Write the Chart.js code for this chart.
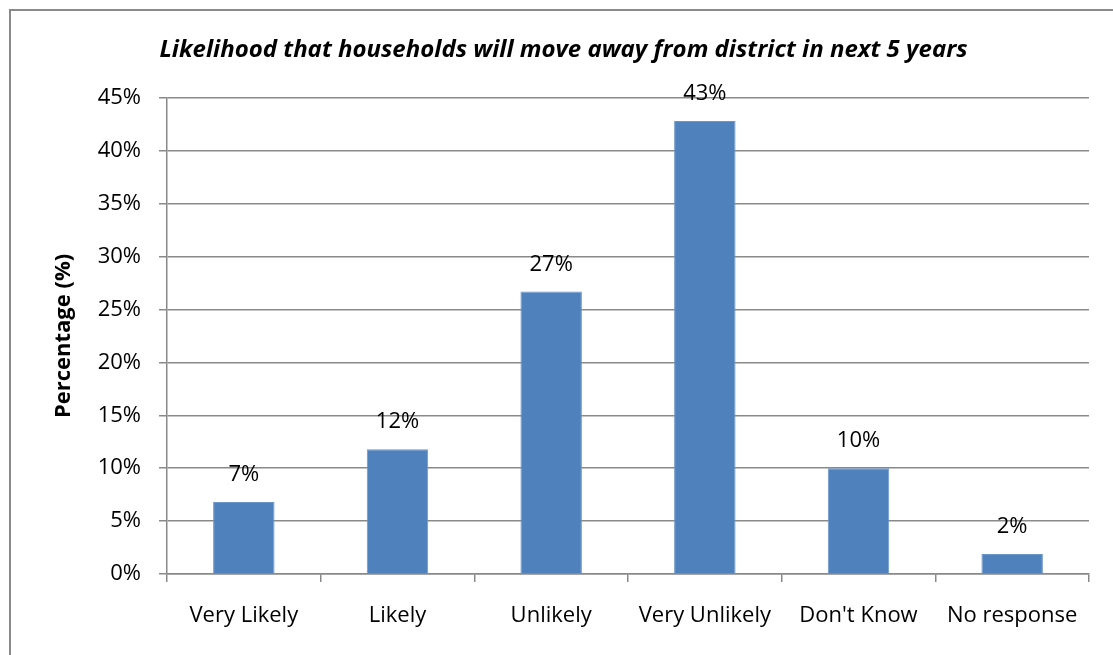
<!DOCTYPE html>
<html>
<head>
<meta charset="utf-8">
<script src="https://cdn.jsdelivr.net/npm/chart.js@4.4.1/dist/chart.umd.min.js"></script>
<style>
  html, body { margin: 0; padding: 0; background: #fff; overflow: hidden; }
  #wrap { position: relative; width: 1113px; height: 655px; }
  #frame {
    position: absolute; left: 9px; top: 9px; width: 1200px; height: 700px;
    border-top: 2px solid #8a8a8a; border-left: 2px solid #8a8a8a;
    pointer-events: none;
  }
</style>
</head>
<body>
<div id="wrap">
  <canvas id="chart" width="1113" height="655"></canvas>
  <div id="frame"></div>
</div>
<script>
// --- DATA ---
const categories = ['Very Likely', 'Likely', 'Unlikely', 'Very Unlikely', "Don't Know", 'No response'];
const percentages = [6.8, 11.8, 26.7, 42.8, 10.0, 1.9];
const yTicks = [0, 5, 10, 15, 20, 25, 30, 35, 40, 45];

const FONT = '"Open Sans", Calibri, sans-serif';
const GRID = '#898989';

// value labels above each bar
const barLabels = {
  id: 'barLabels',
  afterDatasetsDraw(chart) {
    const ctx = chart.ctx;
    const meta = chart.getDatasetMeta(0);
    ctx.save();
    ctx.font = '22px ' + FONT;
    ctx.fillStyle = '#000';
    ctx.textAlign = 'center';
    ctx.textBaseline = 'middle';
    meta.data.forEach((bar, i) => {
      ctx.fillText(Math.round(percentages[i]) + '%', bar.x, bar.y - 27);
    });
    ctx.restore();
  }
};

new Chart(document.getElementById('chart'), {
  type: 'bar',
  data: {
    labels: categories,
    datasets: [{
      data: percentages,
      backgroundColor: '#4F81BD',
      borderColor: '#6d96c8',
      borderWidth: 1,
      categoryPercentage: 1,
      barPercentage: 0.4
    }]
  },
  options: {
    responsive: false,
    animation: false,
    layout: { padding: { left: 38, right: 24, top: 0, bottom: 0 } },
    plugins: {
      legend: { display: false },
      tooltip: { enabled: false },
      title: {
        display: true,
        text: 'Likelihood that households will move away from district in next 5 years',
        color: '#000',
        font: { family: FONT, size: 24, weight: 'bold', style: 'italic', lineHeight: 1.2 },
        padding: { top: 36, bottom: 33 }
      }
    },
    scales: {
      x: {
        grid: {
          offset: true,
          drawOnChartArea: false,
          drawTicks: true,
          tickLength: 8,
          color: GRID,
          lineWidth: 1.5
        },
        border: { color: GRID, width: 1.5 },
        ticks: {
          color: '#000',
          padding: 21,
          maxRotation: 0,
          font: { family: FONT, size: 22 }
        },
        afterFit(scale) { scale.height = 81; }
      },
      y: {
        min: 0,
        max: 45,
        afterBuildTicks(scale) { scale.ticks = yTicks.map(v => ({ value: v })); },
        grid: { color: GRID, lineWidth: 1.5, tickLength: 8 },
        border: { color: GRID, width: 1.5 },
        ticks: {
          color: '#000',
          padding: 18,
          font: { family: FONT, size: 22 },
          callback: v => v + '%'
        },
        title: {
          display: true,
          text: 'Percentage (%)',
          color: '#000',
          font: { family: FONT, size: 22, weight: 'bold', lineHeight: 1.2 },
          padding: { top: 13, bottom: 0 }
        },
        afterFit(scale) { scale.width = 129; }
      }
    }
  },
  plugins: [barLabels]
});
</script>
</body>
</html>
